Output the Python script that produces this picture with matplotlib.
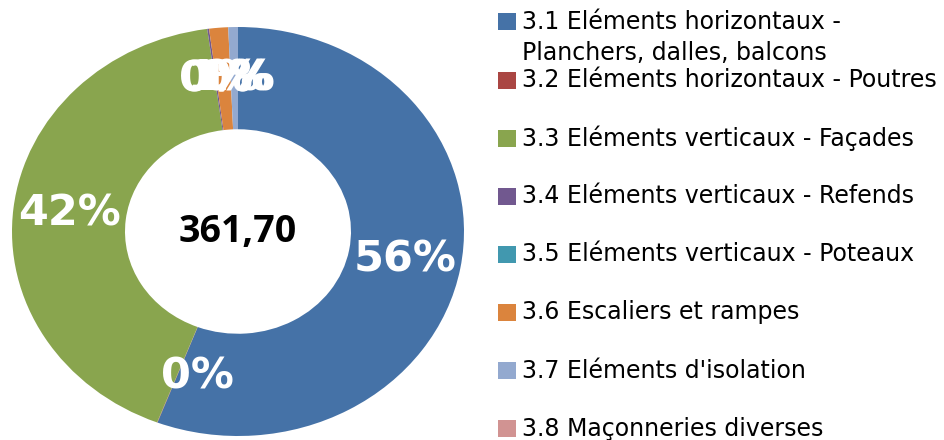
import matplotlib
matplotlib.use('Agg')
import matplotlib.pyplot as plt
from matplotlib.patches import Rectangle

plt.rcParams['font.family'] = ['Open Sans', 'DejaVu Sans']

labels = [
    "3.1 Eléments horizontaux -\nPlanchers, dalles, balcons",
    "3.2 Eléments horizontaux - Poutres",
    "3.3 Eléments verticaux - Façades",
    "3.4 Eléments verticaux - Refends",
    "3.5 Eléments verticaux - Poteaux",
    "3.6 Escaliers et rampes",
    "3.7 Eléments d'isolation",
    "3.8 Maçonneries diverses",
]
values = [201.83, 0.10, 151.90, 0.47, 0.0, 4.90, 2.50, 0.0]
colors = ['#4572A7', '#AA4643', '#89A54E', '#71588F',
          '#4198AF', '#DB843D', '#93A9CF', '#D19392']
total_label = "361,70"

fig = plt.figure(figsize=(9.45, 4.4), dpi=100)

# donut (slightly wider than tall, like the original)
ax = fig.add_axes([12 / 945, 4 / 440, 452 / 945, 409 / 440])
wedges, texts, autotexts = ax.pie(
    values, colors=colors, startangle=90, counterclock=False,
    radius=1.0, autopct='%1.0f%%', pctdistance=0.75,
    wedgeprops=dict(width=0.5, linewidth=0),
    textprops=dict(color='white', fontsize=31, fontweight='bold',
                   family='DejaVu Sans'))
ax.set_aspect('auto')
ax.set_xlim(-1, 1)
ax.set_ylim(-1, 1)
# the tiny 3.2 label sits a bit further round in the original
autotexts[1].set_position((-0.18, -0.71))
ax.text(0, 0, total_label, ha='center', va='center',
        fontsize=27, fontweight='bold', color='black')

# legend drawn in pixel coordinates
lg = fig.add_axes([0, 0, 1, 1], facecolor='none')
lg.set_xlim(0, 945)
lg.set_ylim(440, 0)
lg.axis('off')
y0, step, line_gap = 22, 58.1, 31
for i, (lab, col) in enumerate(zip(labels, colors)):
    yc = y0 + step * i
    lg.add_patch(Rectangle((498, yc - 8.5), 18, 17, facecolor=col, edgecolor='none'))
    for k, line in enumerate(lab.split('\n')):
        lg.text(522, yc + k * line_gap, line, ha='left', va='center',
                fontsize=17, color='black', family='DejaVu Sans')

fig.savefig('out.png', dpi=100)
